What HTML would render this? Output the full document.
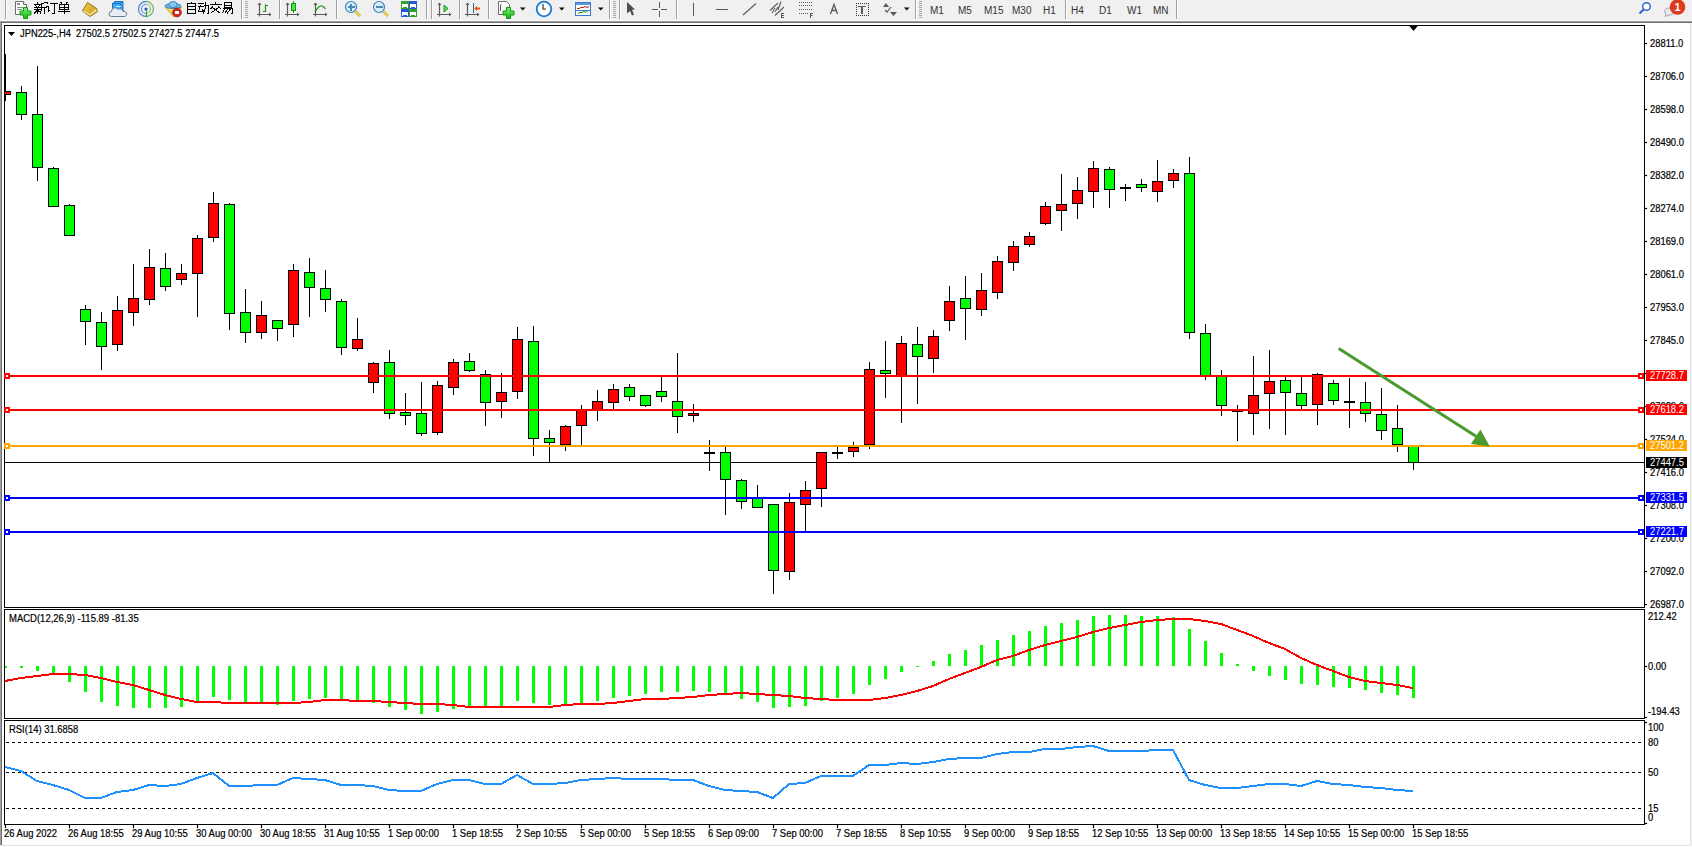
<!DOCTYPE html>
<html><head><meta charset="utf-8"><style>
html,body{margin:0;padding:0;}
body{width:1692px;height:847px;overflow:hidden;position:relative;background:#f0f0f0;font-family:"Liberation Sans",sans-serif;}
</style></head><body>
<svg width="1692" height="847" viewBox="0 0 1692 847" style="position:absolute;left:0;top:0" shape-rendering="crispEdges">
<rect x="0" y="20" width="1692" height="1" fill="#f6f6f6"/>
<rect x="0" y="21" width="1692" height="1" fill="#a0a0a0"/>
<rect x="0" y="22" width="1692" height="1" fill="#6f6f6f"/>
<rect x="0" y="23" width="1690" height="822" fill="#ffffff"/>
<rect x="0" y="21" width="1" height="825" fill="#a0a0a0"/>
<rect x="1" y="22" width="1" height="823" fill="#6f6f6f"/>
<rect x="1690" y="23" width="1" height="823" fill="#e3e3e3"/>
<rect x="0" y="845" width="1691" height="1" fill="#e3e3e3"/>
<rect x="0" y="846" width="1692" height="1" fill="#ffffff"/>
<rect x="4" y="25" width="1641" height="1" fill="#000"/>
<rect x="4" y="607" width="1641" height="1" fill="#000"/>
<rect x="4" y="25" width="1" height="583" fill="#000"/>
<rect x="1644" y="25" width="1" height="583" fill="#000"/>
<rect x="4" y="609" width="1641" height="1" fill="#000"/>
<rect x="4" y="718" width="1641" height="1" fill="#000"/>
<rect x="4" y="609" width="1" height="110" fill="#000"/>
<rect x="1644" y="609" width="1" height="110" fill="#000"/>
<rect x="4" y="720" width="1641" height="1" fill="#000"/>
<rect x="4" y="824" width="1641" height="1" fill="#000"/>
<rect x="4" y="720" width="1" height="105" fill="#000"/>
<rect x="1644" y="720" width="1" height="105" fill="#000"/>
<defs><clipPath id="cm"><rect x="5" y="26" width="1639" height="581"/></clipPath><clipPath id="cmacd"><rect x="5" y="610" width="1639" height="108"/></clipPath><clipPath id="crsi"><rect x="5" y="721" width="1639" height="103"/></clipPath></defs>
<g clip-path="url(#cm)">
<rect x="5" y="462" width="1639" height="1" fill="#000"/>
<rect x="5" y="54" width="1" height="47" fill="#000"/>
<rect x="0" y="91" width="11" height="4" fill="#000"/>
<rect x="1" y="92" width="9" height="2" fill="#ff0000"/>
<rect x="21" y="86" width="1" height="34" fill="#000"/>
<rect x="16" y="92" width="11" height="23" fill="#000"/>
<rect x="17" y="93" width="9" height="21" fill="#00ff00"/>
<rect x="37" y="66" width="1" height="115" fill="#000"/>
<rect x="32" y="114" width="11" height="54" fill="#000"/>
<rect x="33" y="115" width="9" height="52" fill="#00ff00"/>
<rect x="53" y="167" width="1" height="40" fill="#000"/>
<rect x="48" y="168" width="11" height="39" fill="#000"/>
<rect x="49" y="169" width="9" height="37" fill="#00ff00"/>
<rect x="69" y="204" width="1" height="32" fill="#000"/>
<rect x="64" y="205" width="11" height="31" fill="#000"/>
<rect x="65" y="206" width="9" height="29" fill="#00ff00"/>
<rect x="85" y="305" width="1" height="40" fill="#000"/>
<rect x="80" y="309" width="11" height="13" fill="#000"/>
<rect x="81" y="310" width="9" height="11" fill="#00ff00"/>
<rect x="101" y="312" width="1" height="58" fill="#000"/>
<rect x="96" y="322" width="11" height="25" fill="#000"/>
<rect x="97" y="323" width="9" height="23" fill="#00ff00"/>
<rect x="117" y="296" width="1" height="55" fill="#000"/>
<rect x="112" y="310" width="11" height="35" fill="#000"/>
<rect x="113" y="311" width="9" height="33" fill="#ff0000"/>
<rect x="133" y="264" width="1" height="62" fill="#000"/>
<rect x="128" y="298" width="11" height="15" fill="#000"/>
<rect x="129" y="299" width="9" height="13" fill="#ff0000"/>
<rect x="149" y="249" width="1" height="56" fill="#000"/>
<rect x="144" y="267" width="11" height="33" fill="#000"/>
<rect x="145" y="268" width="9" height="31" fill="#ff0000"/>
<rect x="165" y="253" width="1" height="38" fill="#000"/>
<rect x="160" y="268" width="11" height="19" fill="#000"/>
<rect x="161" y="269" width="9" height="17" fill="#00ff00"/>
<rect x="181" y="264" width="1" height="21" fill="#000"/>
<rect x="176" y="273" width="11" height="7" fill="#000"/>
<rect x="177" y="274" width="9" height="5" fill="#ff0000"/>
<rect x="197" y="235" width="1" height="82" fill="#000"/>
<rect x="192" y="238" width="11" height="36" fill="#000"/>
<rect x="193" y="239" width="9" height="34" fill="#ff0000"/>
<rect x="213" y="192" width="1" height="50" fill="#000"/>
<rect x="208" y="203" width="11" height="35" fill="#000"/>
<rect x="209" y="204" width="9" height="33" fill="#ff0000"/>
<rect x="229" y="203" width="1" height="127" fill="#000"/>
<rect x="224" y="204" width="11" height="110" fill="#000"/>
<rect x="225" y="205" width="9" height="108" fill="#00ff00"/>
<rect x="245" y="289" width="1" height="54" fill="#000"/>
<rect x="240" y="312" width="11" height="21" fill="#000"/>
<rect x="241" y="313" width="9" height="19" fill="#00ff00"/>
<rect x="261" y="301" width="1" height="38" fill="#000"/>
<rect x="256" y="315" width="11" height="18" fill="#000"/>
<rect x="257" y="316" width="9" height="16" fill="#ff0000"/>
<rect x="277" y="320" width="1" height="21" fill="#000"/>
<rect x="272" y="320" width="11" height="9" fill="#000"/>
<rect x="273" y="321" width="9" height="7" fill="#00ff00"/>
<rect x="293" y="264" width="1" height="73" fill="#000"/>
<rect x="288" y="270" width="11" height="55" fill="#000"/>
<rect x="289" y="271" width="9" height="53" fill="#ff0000"/>
<rect x="309" y="258" width="1" height="59" fill="#000"/>
<rect x="304" y="272" width="11" height="16" fill="#000"/>
<rect x="305" y="273" width="9" height="14" fill="#00ff00"/>
<rect x="325" y="270" width="1" height="42" fill="#000"/>
<rect x="320" y="288" width="11" height="12" fill="#000"/>
<rect x="321" y="289" width="9" height="10" fill="#00ff00"/>
<rect x="341" y="299" width="1" height="56" fill="#000"/>
<rect x="336" y="301" width="11" height="47" fill="#000"/>
<rect x="337" y="302" width="9" height="45" fill="#00ff00"/>
<rect x="357" y="318" width="1" height="33" fill="#000"/>
<rect x="352" y="339" width="11" height="10" fill="#000"/>
<rect x="353" y="340" width="9" height="8" fill="#ff0000"/>
<rect x="373" y="362" width="1" height="31" fill="#000"/>
<rect x="368" y="363" width="11" height="20" fill="#000"/>
<rect x="369" y="364" width="9" height="18" fill="#ff0000"/>
<rect x="389" y="350" width="1" height="69" fill="#000"/>
<rect x="384" y="362" width="11" height="52" fill="#000"/>
<rect x="385" y="363" width="9" height="50" fill="#00ff00"/>
<rect x="405" y="393" width="1" height="32" fill="#000"/>
<rect x="400" y="412" width="11" height="4" fill="#000"/>
<rect x="401" y="413" width="9" height="2" fill="#00ff00"/>
<rect x="421" y="382" width="1" height="54" fill="#000"/>
<rect x="416" y="413" width="11" height="21" fill="#000"/>
<rect x="417" y="414" width="9" height="19" fill="#00ff00"/>
<rect x="437" y="381" width="1" height="54" fill="#000"/>
<rect x="432" y="385" width="11" height="48" fill="#000"/>
<rect x="433" y="386" width="9" height="46" fill="#ff0000"/>
<rect x="453" y="359" width="1" height="36" fill="#000"/>
<rect x="448" y="362" width="11" height="26" fill="#000"/>
<rect x="449" y="363" width="9" height="24" fill="#ff0000"/>
<rect x="469" y="353" width="1" height="19" fill="#000"/>
<rect x="464" y="361" width="11" height="10" fill="#000"/>
<rect x="465" y="362" width="9" height="8" fill="#00ff00"/>
<rect x="485" y="370" width="1" height="56" fill="#000"/>
<rect x="480" y="374" width="11" height="29" fill="#000"/>
<rect x="481" y="375" width="9" height="27" fill="#00ff00"/>
<rect x="501" y="373" width="1" height="45" fill="#000"/>
<rect x="496" y="392" width="11" height="10" fill="#000"/>
<rect x="497" y="393" width="9" height="8" fill="#ff0000"/>
<rect x="517" y="327" width="1" height="72" fill="#000"/>
<rect x="512" y="339" width="11" height="53" fill="#000"/>
<rect x="513" y="340" width="9" height="51" fill="#ff0000"/>
<rect x="533" y="326" width="1" height="130" fill="#000"/>
<rect x="528" y="341" width="11" height="98" fill="#000"/>
<rect x="529" y="342" width="9" height="96" fill="#00ff00"/>
<rect x="549" y="430" width="1" height="33" fill="#000"/>
<rect x="544" y="438" width="11" height="5" fill="#000"/>
<rect x="545" y="439" width="9" height="3" fill="#00ff00"/>
<rect x="565" y="425" width="1" height="26" fill="#000"/>
<rect x="560" y="426" width="11" height="19" fill="#000"/>
<rect x="561" y="427" width="9" height="17" fill="#ff0000"/>
<rect x="581" y="405" width="1" height="41" fill="#000"/>
<rect x="576" y="410" width="11" height="16" fill="#000"/>
<rect x="577" y="411" width="9" height="14" fill="#ff0000"/>
<rect x="597" y="390" width="1" height="31" fill="#000"/>
<rect x="592" y="401" width="11" height="9" fill="#000"/>
<rect x="593" y="402" width="9" height="7" fill="#ff0000"/>
<rect x="613" y="384" width="1" height="26" fill="#000"/>
<rect x="608" y="389" width="11" height="14" fill="#000"/>
<rect x="609" y="390" width="9" height="12" fill="#ff0000"/>
<rect x="629" y="384" width="1" height="17" fill="#000"/>
<rect x="624" y="387" width="11" height="10" fill="#000"/>
<rect x="625" y="388" width="9" height="8" fill="#00ff00"/>
<rect x="645" y="395" width="1" height="12" fill="#000"/>
<rect x="640" y="395" width="11" height="11" fill="#000"/>
<rect x="641" y="396" width="9" height="9" fill="#00ff00"/>
<rect x="661" y="377" width="1" height="25" fill="#000"/>
<rect x="656" y="391" width="11" height="6" fill="#000"/>
<rect x="657" y="392" width="9" height="4" fill="#00ff00"/>
<rect x="677" y="353" width="1" height="80" fill="#000"/>
<rect x="672" y="401" width="11" height="16" fill="#000"/>
<rect x="673" y="402" width="9" height="14" fill="#00ff00"/>
<rect x="693" y="404" width="1" height="18" fill="#000"/>
<rect x="688" y="413" width="11" height="3" fill="#000"/>
<rect x="689" y="414" width="9" height="1" fill="#ff0000"/>
<rect x="709" y="440" width="1" height="31" fill="#000"/>
<rect x="704" y="452" width="11" height="2" fill="#000"/>
<rect x="725" y="447" width="1" height="68" fill="#000"/>
<rect x="720" y="452" width="11" height="28" fill="#000"/>
<rect x="721" y="453" width="9" height="26" fill="#00ff00"/>
<rect x="741" y="479" width="1" height="30" fill="#000"/>
<rect x="736" y="480" width="11" height="22" fill="#000"/>
<rect x="737" y="481" width="9" height="20" fill="#00ff00"/>
<rect x="757" y="485" width="1" height="23" fill="#000"/>
<rect x="752" y="498" width="11" height="10" fill="#000"/>
<rect x="753" y="499" width="9" height="8" fill="#00ff00"/>
<rect x="773" y="504" width="1" height="90" fill="#000"/>
<rect x="768" y="504" width="11" height="67" fill="#000"/>
<rect x="769" y="505" width="9" height="65" fill="#00ff00"/>
<rect x="789" y="493" width="1" height="87" fill="#000"/>
<rect x="784" y="502" width="11" height="70" fill="#000"/>
<rect x="785" y="503" width="9" height="68" fill="#ff0000"/>
<rect x="805" y="481" width="1" height="50" fill="#000"/>
<rect x="800" y="490" width="11" height="15" fill="#000"/>
<rect x="801" y="491" width="9" height="13" fill="#ff0000"/>
<rect x="821" y="452" width="1" height="55" fill="#000"/>
<rect x="816" y="452" width="11" height="37" fill="#000"/>
<rect x="817" y="453" width="9" height="35" fill="#ff0000"/>
<rect x="837" y="447" width="1" height="12" fill="#000"/>
<rect x="832" y="452" width="11" height="2" fill="#000"/>
<rect x="853" y="442" width="1" height="15" fill="#000"/>
<rect x="848" y="447" width="11" height="5" fill="#000"/>
<rect x="849" y="448" width="9" height="3" fill="#ff0000"/>
<rect x="869" y="362" width="1" height="87" fill="#000"/>
<rect x="864" y="369" width="11" height="76" fill="#000"/>
<rect x="865" y="370" width="9" height="74" fill="#ff0000"/>
<rect x="885" y="341" width="1" height="57" fill="#000"/>
<rect x="880" y="370" width="11" height="4" fill="#000"/>
<rect x="881" y="371" width="9" height="2" fill="#00ff00"/>
<rect x="901" y="336" width="1" height="87" fill="#000"/>
<rect x="896" y="343" width="11" height="33" fill="#000"/>
<rect x="897" y="344" width="9" height="31" fill="#ff0000"/>
<rect x="917" y="327" width="1" height="77" fill="#000"/>
<rect x="912" y="344" width="11" height="13" fill="#000"/>
<rect x="913" y="345" width="9" height="11" fill="#00ff00"/>
<rect x="933" y="330" width="1" height="43" fill="#000"/>
<rect x="928" y="336" width="11" height="23" fill="#000"/>
<rect x="929" y="337" width="9" height="21" fill="#ff0000"/>
<rect x="949" y="286" width="1" height="45" fill="#000"/>
<rect x="944" y="301" width="11" height="20" fill="#000"/>
<rect x="945" y="302" width="9" height="18" fill="#ff0000"/>
<rect x="965" y="276" width="1" height="64" fill="#000"/>
<rect x="960" y="298" width="11" height="11" fill="#000"/>
<rect x="961" y="299" width="9" height="9" fill="#00ff00"/>
<rect x="981" y="273" width="1" height="43" fill="#000"/>
<rect x="976" y="290" width="11" height="20" fill="#000"/>
<rect x="977" y="291" width="9" height="18" fill="#ff0000"/>
<rect x="997" y="256" width="1" height="43" fill="#000"/>
<rect x="992" y="261" width="11" height="32" fill="#000"/>
<rect x="993" y="262" width="9" height="30" fill="#ff0000"/>
<rect x="1013" y="241" width="1" height="30" fill="#000"/>
<rect x="1008" y="246" width="11" height="17" fill="#000"/>
<rect x="1009" y="247" width="9" height="15" fill="#ff0000"/>
<rect x="1029" y="232" width="1" height="15" fill="#000"/>
<rect x="1024" y="236" width="11" height="9" fill="#000"/>
<rect x="1025" y="237" width="9" height="7" fill="#ff0000"/>
<rect x="1045" y="202" width="1" height="23" fill="#000"/>
<rect x="1040" y="206" width="11" height="18" fill="#000"/>
<rect x="1041" y="207" width="9" height="16" fill="#ff0000"/>
<rect x="1061" y="174" width="1" height="57" fill="#000"/>
<rect x="1056" y="204" width="11" height="7" fill="#000"/>
<rect x="1057" y="205" width="9" height="5" fill="#ff0000"/>
<rect x="1077" y="177" width="1" height="42" fill="#000"/>
<rect x="1072" y="190" width="11" height="14" fill="#000"/>
<rect x="1073" y="191" width="9" height="12" fill="#ff0000"/>
<rect x="1093" y="161" width="1" height="47" fill="#000"/>
<rect x="1088" y="168" width="11" height="24" fill="#000"/>
<rect x="1089" y="169" width="9" height="22" fill="#ff0000"/>
<rect x="1109" y="167" width="1" height="41" fill="#000"/>
<rect x="1104" y="169" width="11" height="21" fill="#000"/>
<rect x="1105" y="170" width="9" height="19" fill="#00ff00"/>
<rect x="1125" y="184" width="1" height="17" fill="#000"/>
<rect x="1120" y="187" width="11" height="2" fill="#000"/>
<rect x="1141" y="179" width="1" height="13" fill="#000"/>
<rect x="1136" y="184" width="11" height="4" fill="#000"/>
<rect x="1137" y="185" width="9" height="2" fill="#00ff00"/>
<rect x="1157" y="160" width="1" height="42" fill="#000"/>
<rect x="1152" y="181" width="11" height="11" fill="#000"/>
<rect x="1153" y="182" width="9" height="9" fill="#ff0000"/>
<rect x="1173" y="169" width="1" height="19" fill="#000"/>
<rect x="1168" y="173" width="11" height="8" fill="#000"/>
<rect x="1169" y="174" width="9" height="6" fill="#ff0000"/>
<rect x="1189" y="157" width="1" height="182" fill="#000"/>
<rect x="1184" y="173" width="11" height="160" fill="#000"/>
<rect x="1185" y="174" width="9" height="158" fill="#00ff00"/>
<rect x="1205" y="324" width="1" height="56" fill="#000"/>
<rect x="1200" y="333" width="11" height="43" fill="#000"/>
<rect x="1201" y="334" width="9" height="41" fill="#00ff00"/>
<rect x="1221" y="370" width="1" height="46" fill="#000"/>
<rect x="1216" y="375" width="11" height="31" fill="#000"/>
<rect x="1217" y="376" width="9" height="29" fill="#00ff00"/>
<rect x="1237" y="405" width="1" height="36" fill="#000"/>
<rect x="1232" y="410" width="11" height="2" fill="#000"/>
<rect x="1253" y="356" width="1" height="79" fill="#000"/>
<rect x="1248" y="395" width="11" height="19" fill="#000"/>
<rect x="1249" y="396" width="9" height="17" fill="#ff0000"/>
<rect x="1269" y="350" width="1" height="79" fill="#000"/>
<rect x="1264" y="381" width="11" height="13" fill="#000"/>
<rect x="1265" y="382" width="9" height="11" fill="#ff0000"/>
<rect x="1285" y="376" width="1" height="59" fill="#000"/>
<rect x="1280" y="380" width="11" height="13" fill="#000"/>
<rect x="1281" y="381" width="9" height="11" fill="#00ff00"/>
<rect x="1301" y="376" width="1" height="33" fill="#000"/>
<rect x="1296" y="393" width="11" height="13" fill="#000"/>
<rect x="1297" y="394" width="9" height="11" fill="#00ff00"/>
<rect x="1317" y="373" width="1" height="52" fill="#000"/>
<rect x="1312" y="374" width="11" height="31" fill="#000"/>
<rect x="1313" y="375" width="9" height="29" fill="#ff0000"/>
<rect x="1333" y="380" width="1" height="25" fill="#000"/>
<rect x="1328" y="383" width="11" height="18" fill="#000"/>
<rect x="1329" y="384" width="9" height="16" fill="#00ff00"/>
<rect x="1349" y="378" width="1" height="50" fill="#000"/>
<rect x="1344" y="401" width="11" height="2" fill="#000"/>
<rect x="1365" y="382" width="1" height="40" fill="#000"/>
<rect x="1360" y="402" width="11" height="12" fill="#000"/>
<rect x="1361" y="403" width="9" height="10" fill="#00ff00"/>
<rect x="1381" y="388" width="1" height="52" fill="#000"/>
<rect x="1376" y="414" width="11" height="17" fill="#000"/>
<rect x="1377" y="415" width="9" height="15" fill="#00ff00"/>
<rect x="1397" y="405" width="1" height="47" fill="#000"/>
<rect x="1392" y="428" width="11" height="17" fill="#000"/>
<rect x="1393" y="429" width="9" height="15" fill="#00ff00"/>
<rect x="1413" y="445" width="1" height="25" fill="#000"/>
<rect x="1408" y="446" width="11" height="17" fill="#000"/>
<rect x="1409" y="447" width="9" height="15" fill="#00ff00"/>
<rect x="5" y="375" width="1639" height="2" fill="#ff0000"/>
<rect x="5" y="409" width="1639" height="2" fill="#ff0000"/>
<rect x="5" y="445" width="1639" height="2" fill="#ffa500"/>
<rect x="5" y="497" width="1639" height="2" fill="#0000ff"/>
<rect x="5" y="531" width="1639" height="2" fill="#0000ff"/>
</g>
<rect x="4" y="373" width="6" height="6" fill="#ff0000"/>
<rect x="6" y="375" width="2" height="2" fill="#ffffff"/>
<rect x="1638" y="373" width="6" height="6" fill="#ff0000"/>
<rect x="1640" y="375" width="2" height="2" fill="#ffffff"/>
<rect x="4" y="407" width="6" height="6" fill="#ff0000"/>
<rect x="6" y="409" width="2" height="2" fill="#ffffff"/>
<rect x="1638" y="407" width="6" height="6" fill="#ff0000"/>
<rect x="1640" y="409" width="2" height="2" fill="#ffffff"/>
<rect x="4" y="443" width="6" height="6" fill="#ffa500"/>
<rect x="6" y="445" width="2" height="2" fill="#ffffff"/>
<rect x="1638" y="443" width="6" height="6" fill="#ffa500"/>
<rect x="1640" y="445" width="2" height="2" fill="#ffffff"/>
<rect x="4" y="495" width="6" height="6" fill="#0000ff"/>
<rect x="6" y="497" width="2" height="2" fill="#ffffff"/>
<rect x="1638" y="495" width="6" height="6" fill="#0000ff"/>
<rect x="1640" y="497" width="2" height="2" fill="#ffffff"/>
<rect x="4" y="529" width="6" height="6" fill="#0000ff"/>
<rect x="6" y="531" width="2" height="2" fill="#ffffff"/>
<rect x="1638" y="529" width="6" height="6" fill="#0000ff"/>
<rect x="1640" y="531" width="2" height="2" fill="#ffffff"/>
<polygon points="1408.5,25 1418.5,25 1413.5,31" fill="#000" shape-rendering="auto"/>
<g shape-rendering="auto"><line x1="1338.7" y1="348.5" x2="1476" y2="436.2" stroke="#4a9a2e" stroke-width="3"/><polygon points="1480.4,429.4 1470.9,444 1489.8,446.4" fill="#4a9a2e"/></g>
<g clip-path="url(#cmacd)">
<rect x="4" y="666" width="3" height="2" fill="#00ff00"/>
<rect x="20" y="666" width="3" height="2" fill="#00ff00"/>
<rect x="36" y="666" width="3" height="5" fill="#00ff00"/>
<rect x="52" y="666" width="3" height="9" fill="#00ff00"/>
<rect x="68" y="666" width="3" height="16" fill="#00ff00"/>
<rect x="84" y="666" width="3" height="26" fill="#00ff00"/>
<rect x="100" y="666" width="3" height="36" fill="#00ff00"/>
<rect x="116" y="666" width="3" height="40" fill="#00ff00"/>
<rect x="132" y="666" width="3" height="42" fill="#00ff00"/>
<rect x="148" y="666" width="3" height="42" fill="#00ff00"/>
<rect x="164" y="666" width="3" height="42" fill="#00ff00"/>
<rect x="180" y="666" width="3" height="41" fill="#00ff00"/>
<rect x="196" y="666" width="3" height="36" fill="#00ff00"/>
<rect x="212" y="666" width="3" height="31" fill="#00ff00"/>
<rect x="228" y="666" width="3" height="34" fill="#00ff00"/>
<rect x="244" y="666" width="3" height="37" fill="#00ff00"/>
<rect x="260" y="666" width="3" height="37" fill="#00ff00"/>
<rect x="276" y="666" width="3" height="39" fill="#00ff00"/>
<rect x="292" y="666" width="3" height="35" fill="#00ff00"/>
<rect x="308" y="666" width="3" height="33" fill="#00ff00"/>
<rect x="324" y="666" width="3" height="32" fill="#00ff00"/>
<rect x="340" y="666" width="3" height="33" fill="#00ff00"/>
<rect x="356" y="666" width="3" height="34" fill="#00ff00"/>
<rect x="372" y="666" width="3" height="37" fill="#00ff00"/>
<rect x="388" y="666" width="3" height="41" fill="#00ff00"/>
<rect x="404" y="666" width="3" height="44" fill="#00ff00"/>
<rect x="420" y="666" width="3" height="48" fill="#00ff00"/>
<rect x="436" y="666" width="3" height="46" fill="#00ff00"/>
<rect x="452" y="666" width="3" height="43" fill="#00ff00"/>
<rect x="468" y="666" width="3" height="40" fill="#00ff00"/>
<rect x="484" y="666" width="3" height="40" fill="#00ff00"/>
<rect x="500" y="666" width="3" height="40" fill="#00ff00"/>
<rect x="516" y="666" width="3" height="35" fill="#00ff00"/>
<rect x="532" y="666" width="3" height="37" fill="#00ff00"/>
<rect x="548" y="666" width="3" height="39" fill="#00ff00"/>
<rect x="564" y="666" width="3" height="39" fill="#00ff00"/>
<rect x="580" y="666" width="3" height="37" fill="#00ff00"/>
<rect x="596" y="666" width="3" height="35" fill="#00ff00"/>
<rect x="612" y="666" width="3" height="32" fill="#00ff00"/>
<rect x="628" y="666" width="3" height="30" fill="#00ff00"/>
<rect x="644" y="666" width="3" height="28" fill="#00ff00"/>
<rect x="660" y="666" width="3" height="26" fill="#00ff00"/>
<rect x="676" y="666" width="3" height="26" fill="#00ff00"/>
<rect x="692" y="666" width="3" height="25" fill="#00ff00"/>
<rect x="708" y="666" width="3" height="26" fill="#00ff00"/>
<rect x="724" y="666" width="3" height="28" fill="#00ff00"/>
<rect x="740" y="666" width="3" height="33" fill="#00ff00"/>
<rect x="756" y="666" width="3" height="36" fill="#00ff00"/>
<rect x="772" y="666" width="3" height="42" fill="#00ff00"/>
<rect x="788" y="666" width="3" height="41" fill="#00ff00"/>
<rect x="804" y="666" width="3" height="40" fill="#00ff00"/>
<rect x="820" y="666" width="3" height="35" fill="#00ff00"/>
<rect x="836" y="666" width="3" height="32" fill="#00ff00"/>
<rect x="852" y="666" width="3" height="28" fill="#00ff00"/>
<rect x="868" y="666" width="3" height="19" fill="#00ff00"/>
<rect x="884" y="666" width="3" height="13" fill="#00ff00"/>
<rect x="900" y="666" width="3" height="6" fill="#00ff00"/>
<rect x="916" y="666" width="3" height="1" fill="#00ff00"/>
<rect x="932" y="661" width="3" height="5" fill="#00ff00"/>
<rect x="948" y="654" width="3" height="12" fill="#00ff00"/>
<rect x="964" y="650" width="3" height="16" fill="#00ff00"/>
<rect x="980" y="645" width="3" height="21" fill="#00ff00"/>
<rect x="996" y="640" width="3" height="26" fill="#00ff00"/>
<rect x="1012" y="635" width="3" height="31" fill="#00ff00"/>
<rect x="1028" y="631" width="3" height="35" fill="#00ff00"/>
<rect x="1044" y="626" width="3" height="40" fill="#00ff00"/>
<rect x="1060" y="623" width="3" height="43" fill="#00ff00"/>
<rect x="1076" y="620" width="3" height="46" fill="#00ff00"/>
<rect x="1092" y="616" width="3" height="50" fill="#00ff00"/>
<rect x="1108" y="615" width="3" height="51" fill="#00ff00"/>
<rect x="1124" y="615" width="3" height="51" fill="#00ff00"/>
<rect x="1140" y="616" width="3" height="50" fill="#00ff00"/>
<rect x="1156" y="616" width="3" height="50" fill="#00ff00"/>
<rect x="1172" y="617" width="3" height="49" fill="#00ff00"/>
<rect x="1188" y="629" width="3" height="37" fill="#00ff00"/>
<rect x="1204" y="641" width="3" height="25" fill="#00ff00"/>
<rect x="1220" y="653" width="3" height="13" fill="#00ff00"/>
<rect x="1236" y="664" width="3" height="2" fill="#00ff00"/>
<rect x="1252" y="666" width="3" height="5" fill="#00ff00"/>
<rect x="1268" y="666" width="3" height="10" fill="#00ff00"/>
<rect x="1284" y="666" width="3" height="14" fill="#00ff00"/>
<rect x="1300" y="666" width="3" height="18" fill="#00ff00"/>
<rect x="1316" y="666" width="3" height="19" fill="#00ff00"/>
<rect x="1332" y="666" width="3" height="21" fill="#00ff00"/>
<rect x="1348" y="666" width="3" height="22" fill="#00ff00"/>
<rect x="1364" y="666" width="3" height="24" fill="#00ff00"/>
<rect x="1380" y="666" width="3" height="27" fill="#00ff00"/>
<rect x="1396" y="666" width="3" height="29" fill="#00ff00"/>
<rect x="1412" y="666" width="3" height="32" fill="#00ff00"/>
<polyline points="0,682 5,681 21,678 37,676 53,674 69,674 85,675 101,678 117,682 133,685 149,690 165,695 181,699 197,702 213,702 229,703 245,703 261,703 277,703 293,703 309,702 325,700 341,700 357,701 373,701 389,702 405,703 421,704 437,704 453,705 469,707 485,707 501,707 517,707 533,707 549,707 565,705 581,704 597,704 613,703 629,701 645,699 661,699 677,698 693,697 709,695 725,694 741,693 757,694 773,695 789,696 805,698 821,699 837,700 853,700 869,700 885,698 901,695 917,691 933,686 949,679 965,673 981,667 997,660 1013,656 1029,650 1045,645 1061,641 1077,637 1093,632 1109,628 1125,625 1141,622 1157,620 1173,619 1189,619 1205,621 1221,624 1237,630 1253,636 1269,643 1285,649 1301,658 1317,665 1333,671 1349,677 1365,681 1381,683 1397,685 1413,688" fill="none" stroke="#ff0000" stroke-width="2"/>
</g>
<g clip-path="url(#crsi)">
<line x1="6" y1="742.5" x2="1644" y2="742.5" stroke="#000" stroke-width="1" stroke-dasharray="3,3"/>
<line x1="6" y1="772.5" x2="1644" y2="772.5" stroke="#000" stroke-width="1" stroke-dasharray="3,3"/>
<line x1="6" y1="808.5" x2="1644" y2="808.5" stroke="#000" stroke-width="1" stroke-dasharray="3,3"/>
<polyline points="5,767 21,771 37,781 53,785 69,790 85,798 101,798 117,792 133,790 149,785 165,786 181,784 197,778 213,773 229,786 245,786 261,785 277,785 293,778 309,779 325,780 341,785 357,785 373,786 389,790 405,791 421,791 437,784 453,780 469,780 485,784 501,784 517,775 533,784 549,784 565,783 581,780 597,779 613,778 629,779 645,779 661,779 677,780 693,780 709,786 725,790 741,791 757,792 773,798 789,784 805,783 821,776 837,776 853,776 869,765 885,765 901,763 917,764 933,762 949,759 965,758 981,758 997,754 1013,752 1029,752 1045,749 1061,749 1077,747 1093,746 1109,751 1125,751 1141,751 1157,750 1173,750 1189,780 1205,785 1221,788 1237,788 1253,786 1269,784 1285,784 1301,786 1317,781 1333,784 1349,785 1365,787 1381,788 1397,790 1413,791" fill="none" stroke="#1e90ff" stroke-width="2"/>
</g>
<g font-family="Liberation Sans, sans-serif" fill="#000" stroke="#000" stroke-width="0.2" shape-rendering="auto">
<rect x="1645" y="373" width="2" height="1" fill="#000"/>
<rect x="1645" y="43" width="2" height="1" fill="#000"/>
<text transform="translate(1650,47) scale(0.9400,1)" font-size="10" xml:space="preserve" >28811.0</text>
<rect x="1645" y="76" width="2" height="1" fill="#000"/>
<text transform="translate(1650,80) scale(0.9400,1)" font-size="10" xml:space="preserve" >28706.0</text>
<rect x="1645" y="109" width="2" height="1" fill="#000"/>
<text transform="translate(1650,113) scale(0.9400,1)" font-size="10" xml:space="preserve" >28598.0</text>
<rect x="1645" y="142" width="2" height="1" fill="#000"/>
<text transform="translate(1650,146) scale(0.9400,1)" font-size="10" xml:space="preserve" >28490.0</text>
<rect x="1645" y="175" width="2" height="1" fill="#000"/>
<text transform="translate(1650,179) scale(0.9400,1)" font-size="10" xml:space="preserve" >28382.0</text>
<rect x="1645" y="208" width="2" height="1" fill="#000"/>
<text transform="translate(1650,212) scale(0.9400,1)" font-size="10" xml:space="preserve" >28274.0</text>
<rect x="1645" y="241" width="2" height="1" fill="#000"/>
<text transform="translate(1650,245) scale(0.9400,1)" font-size="10" xml:space="preserve" >28169.0</text>
<rect x="1645" y="274" width="2" height="1" fill="#000"/>
<text transform="translate(1650,278) scale(0.9400,1)" font-size="10" xml:space="preserve" >28061.0</text>
<rect x="1645" y="307" width="2" height="1" fill="#000"/>
<text transform="translate(1650,311) scale(0.9400,1)" font-size="10" xml:space="preserve" >27953.0</text>
<rect x="1645" y="340" width="2" height="1" fill="#000"/>
<text transform="translate(1650,344) scale(0.9400,1)" font-size="10" xml:space="preserve" >27845.0</text>
<rect x="1645" y="406" width="2" height="1" fill="#000"/>
<text transform="translate(1650,410) scale(0.9400,1)" font-size="10" xml:space="preserve" >27629.0</text>
<rect x="1645" y="439" width="2" height="1" fill="#000"/>
<text transform="translate(1650,443) scale(0.9400,1)" font-size="10" xml:space="preserve" >27524.0</text>
<rect x="1645" y="472" width="2" height="1" fill="#000"/>
<text transform="translate(1650,476) scale(0.9400,1)" font-size="10" xml:space="preserve" >27416.0</text>
<rect x="1645" y="505" width="2" height="1" fill="#000"/>
<text transform="translate(1650,509) scale(0.9400,1)" font-size="10" xml:space="preserve" >27308.0</text>
<rect x="1645" y="538" width="2" height="1" fill="#000"/>
<text transform="translate(1650,542) scale(0.9400,1)" font-size="10" xml:space="preserve" >27200.0</text>
<rect x="1645" y="571" width="2" height="1" fill="#000"/>
<text transform="translate(1650,575) scale(0.9400,1)" font-size="10" xml:space="preserve" >27092.0</text>
<rect x="1645" y="604" width="2" height="1" fill="#000"/>
<text transform="translate(1650,608) scale(0.9400,1)" font-size="10" xml:space="preserve" >26987.0</text>
</g>
<g font-family="Liberation Sans, sans-serif" fill="#fff">
<rect x="1646" y="370" width="41" height="11" fill="#ff0000"/>
<text transform="translate(1650,379) scale(0.9400,1)" font-size="10" xml:space="preserve" >27728.7</text>
<rect x="1646" y="404" width="41" height="11" fill="#ff0000"/>
<text transform="translate(1650,413) scale(0.9400,1)" font-size="10" xml:space="preserve" >27618.2</text>
<rect x="1646" y="440" width="41" height="11" fill="#ffa500"/>
<text transform="translate(1650,449) scale(0.9400,1)" font-size="10" xml:space="preserve" >27501.2</text>
<rect x="1646" y="457" width="41" height="11" fill="#000000"/>
<text transform="translate(1650,466) scale(0.9400,1)" font-size="10" xml:space="preserve" >27447.5</text>
<rect x="1646" y="492" width="41" height="11" fill="#0000ff"/>
<text transform="translate(1650,501) scale(0.9400,1)" font-size="10" xml:space="preserve" >27331.5</text>
<rect x="1646" y="526" width="41" height="11" fill="#0000ff"/>
<text transform="translate(1650,535) scale(0.9400,1)" font-size="10" xml:space="preserve" >27221.7</text>
</g>
<g font-family="Liberation Sans, sans-serif" fill="#000" stroke="#000" stroke-width="0.2" shape-rendering="auto">
<text transform="translate(1648,620) scale(0.9400,1)" font-size="10" xml:space="preserve" >212.42</text>
<text transform="translate(1648,670) scale(0.9400,1)" font-size="10" xml:space="preserve" >0.00</text>
<text transform="translate(1648,715) scale(0.9400,1)" font-size="10" xml:space="preserve" >-194.43</text>
<rect x="1645" y="666" width="2" height="1" fill="#000"/>
<rect x="1645" y="717" width="2" height="1" fill="#000"/>
<rect x="1645" y="722" width="2" height="1" fill="#000"/>
<rect x="1645" y="823" width="2" height="1" fill="#000"/>
<text transform="translate(1648,731) scale(0.9400,1)" font-size="10" xml:space="preserve" >100</text>
<text transform="translate(1648,746) scale(0.9400,1)" font-size="10" xml:space="preserve" >80</text>
<text transform="translate(1648,776) scale(0.9400,1)" font-size="10" xml:space="preserve" >50</text>
<text transform="translate(1648,812) scale(0.9400,1)" font-size="10" xml:space="preserve" >15</text>
<text transform="translate(1648,821) scale(0.9400,1)" font-size="10" xml:space="preserve" >0</text>
<rect x="5" y="825" width="1" height="3" fill="#000"/>
<text transform="translate(4,837) scale(0.9450,1)" font-size="10" xml:space="preserve" >26 Aug 2022</text>
<rect x="69" y="825" width="1" height="3" fill="#000"/>
<text transform="translate(68,837) scale(0.9450,1)" font-size="10" xml:space="preserve" >26 Aug 18:55</text>
<rect x="133" y="825" width="1" height="3" fill="#000"/>
<text transform="translate(132,837) scale(0.9450,1)" font-size="10" xml:space="preserve" >29 Aug 10:55</text>
<rect x="197" y="825" width="1" height="3" fill="#000"/>
<text transform="translate(196,837) scale(0.9450,1)" font-size="10" xml:space="preserve" >30 Aug 00:00</text>
<rect x="261" y="825" width="1" height="3" fill="#000"/>
<text transform="translate(260,837) scale(0.9450,1)" font-size="10" xml:space="preserve" >30 Aug 18:55</text>
<rect x="325" y="825" width="1" height="3" fill="#000"/>
<text transform="translate(324,837) scale(0.9450,1)" font-size="10" xml:space="preserve" >31 Aug 10:55</text>
<rect x="389" y="825" width="1" height="3" fill="#000"/>
<text transform="translate(388,837) scale(0.9450,1)" font-size="10" xml:space="preserve" >1 Sep 00:00</text>
<rect x="453" y="825" width="1" height="3" fill="#000"/>
<text transform="translate(452,837) scale(0.9450,1)" font-size="10" xml:space="preserve" >1 Sep 18:55</text>
<rect x="517" y="825" width="1" height="3" fill="#000"/>
<text transform="translate(516,837) scale(0.9450,1)" font-size="10" xml:space="preserve" >2 Sep 10:55</text>
<rect x="581" y="825" width="1" height="3" fill="#000"/>
<text transform="translate(580,837) scale(0.9450,1)" font-size="10" xml:space="preserve" >5 Sep 00:00</text>
<rect x="645" y="825" width="1" height="3" fill="#000"/>
<text transform="translate(644,837) scale(0.9450,1)" font-size="10" xml:space="preserve" >5 Sep 18:55</text>
<rect x="709" y="825" width="1" height="3" fill="#000"/>
<text transform="translate(708,837) scale(0.9450,1)" font-size="10" xml:space="preserve" >6 Sep 09:00</text>
<rect x="773" y="825" width="1" height="3" fill="#000"/>
<text transform="translate(772,837) scale(0.9450,1)" font-size="10" xml:space="preserve" >7 Sep 00:00</text>
<rect x="837" y="825" width="1" height="3" fill="#000"/>
<text transform="translate(836,837) scale(0.9450,1)" font-size="10" xml:space="preserve" >7 Sep 18:55</text>
<rect x="901" y="825" width="1" height="3" fill="#000"/>
<text transform="translate(900,837) scale(0.9450,1)" font-size="10" xml:space="preserve" >8 Sep 10:55</text>
<rect x="965" y="825" width="1" height="3" fill="#000"/>
<text transform="translate(964,837) scale(0.9450,1)" font-size="10" xml:space="preserve" >9 Sep 00:00</text>
<rect x="1029" y="825" width="1" height="3" fill="#000"/>
<text transform="translate(1028,837) scale(0.9450,1)" font-size="10" xml:space="preserve" >9 Sep 18:55</text>
<rect x="1093" y="825" width="1" height="3" fill="#000"/>
<text transform="translate(1092,837) scale(0.9450,1)" font-size="10" xml:space="preserve" >12 Sep 10:55</text>
<rect x="1157" y="825" width="1" height="3" fill="#000"/>
<text transform="translate(1156,837) scale(0.9450,1)" font-size="10" xml:space="preserve" >13 Sep 00:00</text>
<rect x="1221" y="825" width="1" height="3" fill="#000"/>
<text transform="translate(1220,837) scale(0.9450,1)" font-size="10" xml:space="preserve" >13 Sep 18:55</text>
<rect x="1285" y="825" width="1" height="3" fill="#000"/>
<text transform="translate(1284,837) scale(0.9450,1)" font-size="10" xml:space="preserve" >14 Sep 10:55</text>
<rect x="1349" y="825" width="1" height="3" fill="#000"/>
<text transform="translate(1348,837) scale(0.9450,1)" font-size="10" xml:space="preserve" >15 Sep 00:00</text>
<rect x="1413" y="825" width="1" height="3" fill="#000"/>
<text transform="translate(1412,837) scale(0.9450,1)" font-size="10" xml:space="preserve" >15 Sep 18:55</text>
<text transform="translate(20,37) scale(0.9350,1)" font-size="10" xml:space="preserve" >JPN225-,H4  27502.5 27502.5 27427.5 27447.5</text>
<text transform="translate(9,622) scale(0.9500,1)" font-size="10" xml:space="preserve" >MACD(12,26,9) -115.89 -81.35</text>
<text transform="translate(9,733) scale(0.9450,1)" font-size="10" xml:space="preserve" >RSI(14) 31.6858</text>
</g>
<polygon points="8,32 15,32 11.5,36" fill="#000" shape-rendering="auto"/>
</svg>
<svg width="1692" height="21" viewBox="0 0 1692 21" style="position:absolute;left:0;top:0">
<defs><pattern id="chk" width="2" height="2" patternUnits="userSpaceOnUse"><rect width="2" height="2" fill="#f7f7f7"/><rect width="1" height="1" fill="#e9e9e9"/><rect x="1" y="1" width="1" height="1" fill="#e9e9e9"/></pattern><linearGradient id="gplus" x1="0" y1="0" x2="0" y2="1"><stop offset="0" stop-color="#7df07d"/><stop offset="1" stop-color="#0fb80f"/></linearGradient><linearGradient id="gold" x1="0" y1="0" x2="1" y2="1"><stop offset="0" stop-color="#f3d34a"/><stop offset="1" stop-color="#c8901a"/></linearGradient></defs>
<rect x="280" y="0" width="24" height="19" fill="url(#chk)" shape-rendering="crispEdges"/>
<rect x="432" y="0" width="25" height="19" fill="url(#chk)" shape-rendering="crispEdges"/>
<rect x="460" y="0" width="25" height="19" fill="url(#chk)" shape-rendering="crispEdges"/>
<rect x="620" y="0" width="25" height="19" fill="url(#chk)" shape-rendering="crispEdges"/>
<rect x="1066" y="0" width="24" height="19" fill="url(#chk)" shape-rendering="crispEdges"/>
<rect x="5" y="0" width="1" height="19" fill="#a0a0a0" shape-rendering="crispEdges"/>
<rect x="6" y="0" width="1" height="19" fill="#ffffff" shape-rendering="crispEdges"/>
<rect x="241" y="0" width="1" height="19" fill="#a0a0a0" shape-rendering="crispEdges"/>
<rect x="242" y="0" width="1" height="19" fill="#ffffff" shape-rendering="crispEdges"/>
<rect x="279" y="0" width="1" height="19" fill="#a0a0a0" shape-rendering="crispEdges"/>
<rect x="280" y="0" width="1" height="19" fill="#ffffff" shape-rendering="crispEdges"/>
<rect x="336" y="0" width="1" height="19" fill="#a0a0a0" shape-rendering="crispEdges"/>
<rect x="337" y="0" width="1" height="19" fill="#ffffff" shape-rendering="crispEdges"/>
<rect x="426" y="0" width="1" height="19" fill="#a0a0a0" shape-rendering="crispEdges"/>
<rect x="427" y="0" width="1" height="19" fill="#ffffff" shape-rendering="crispEdges"/>
<rect x="431" y="0" width="1" height="19" fill="#a0a0a0" shape-rendering="crispEdges"/>
<rect x="432" y="0" width="1" height="19" fill="#ffffff" shape-rendering="crispEdges"/>
<rect x="459" y="0" width="1" height="19" fill="#a0a0a0" shape-rendering="crispEdges"/>
<rect x="460" y="0" width="1" height="19" fill="#ffffff" shape-rendering="crispEdges"/>
<rect x="488" y="0" width="1" height="19" fill="#a0a0a0" shape-rendering="crispEdges"/>
<rect x="489" y="0" width="1" height="19" fill="#ffffff" shape-rendering="crispEdges"/>
<rect x="609" y="0" width="1" height="19" fill="#a0a0a0" shape-rendering="crispEdges"/>
<rect x="610" y="0" width="1" height="19" fill="#ffffff" shape-rendering="crispEdges"/>
<rect x="619" y="0" width="1" height="19" fill="#a0a0a0" shape-rendering="crispEdges"/>
<rect x="620" y="0" width="1" height="19" fill="#ffffff" shape-rendering="crispEdges"/>
<rect x="676" y="0" width="1" height="19" fill="#a0a0a0" shape-rendering="crispEdges"/>
<rect x="677" y="0" width="1" height="19" fill="#ffffff" shape-rendering="crispEdges"/>
<rect x="915" y="0" width="1" height="19" fill="#a0a0a0" shape-rendering="crispEdges"/>
<rect x="916" y="0" width="1" height="19" fill="#ffffff" shape-rendering="crispEdges"/>
<rect x="1065" y="0" width="1" height="19" fill="#a0a0a0" shape-rendering="crispEdges"/>
<rect x="1066" y="0" width="1" height="19" fill="#ffffff" shape-rendering="crispEdges"/>
<rect x="1176" y="0" width="1" height="19" fill="#a0a0a0" shape-rendering="crispEdges"/>
<rect x="1177" y="0" width="1" height="19" fill="#ffffff" shape-rendering="crispEdges"/>
<rect x="245" y="1" width="3" height="1" fill="#a8a8a8" shape-rendering="crispEdges"/>
<rect x="245" y="3" width="3" height="1" fill="#a8a8a8" shape-rendering="crispEdges"/>
<rect x="245" y="5" width="3" height="1" fill="#a8a8a8" shape-rendering="crispEdges"/>
<rect x="245" y="7" width="3" height="1" fill="#a8a8a8" shape-rendering="crispEdges"/>
<rect x="245" y="9" width="3" height="1" fill="#a8a8a8" shape-rendering="crispEdges"/>
<rect x="245" y="11" width="3" height="1" fill="#a8a8a8" shape-rendering="crispEdges"/>
<rect x="245" y="13" width="3" height="1" fill="#a8a8a8" shape-rendering="crispEdges"/>
<rect x="245" y="15" width="3" height="1" fill="#a8a8a8" shape-rendering="crispEdges"/>
<rect x="245" y="17" width="3" height="1" fill="#a8a8a8" shape-rendering="crispEdges"/>
<rect x="613" y="1" width="3" height="1" fill="#a8a8a8" shape-rendering="crispEdges"/>
<rect x="613" y="3" width="3" height="1" fill="#a8a8a8" shape-rendering="crispEdges"/>
<rect x="613" y="5" width="3" height="1" fill="#a8a8a8" shape-rendering="crispEdges"/>
<rect x="613" y="7" width="3" height="1" fill="#a8a8a8" shape-rendering="crispEdges"/>
<rect x="613" y="9" width="3" height="1" fill="#a8a8a8" shape-rendering="crispEdges"/>
<rect x="613" y="11" width="3" height="1" fill="#a8a8a8" shape-rendering="crispEdges"/>
<rect x="613" y="13" width="3" height="1" fill="#a8a8a8" shape-rendering="crispEdges"/>
<rect x="613" y="15" width="3" height="1" fill="#a8a8a8" shape-rendering="crispEdges"/>
<rect x="613" y="17" width="3" height="1" fill="#a8a8a8" shape-rendering="crispEdges"/>
<rect x="919" y="1" width="3" height="1" fill="#a8a8a8" shape-rendering="crispEdges"/>
<rect x="919" y="3" width="3" height="1" fill="#a8a8a8" shape-rendering="crispEdges"/>
<rect x="919" y="5" width="3" height="1" fill="#a8a8a8" shape-rendering="crispEdges"/>
<rect x="919" y="7" width="3" height="1" fill="#a8a8a8" shape-rendering="crispEdges"/>
<rect x="919" y="9" width="3" height="1" fill="#a8a8a8" shape-rendering="crispEdges"/>
<rect x="919" y="11" width="3" height="1" fill="#a8a8a8" shape-rendering="crispEdges"/>
<rect x="919" y="13" width="3" height="1" fill="#a8a8a8" shape-rendering="crispEdges"/>
<rect x="919" y="15" width="3" height="1" fill="#a8a8a8" shape-rendering="crispEdges"/>
<rect x="919" y="17" width="3" height="1" fill="#a8a8a8" shape-rendering="crispEdges"/>
<path d="M15.5,1.5 h8 l3,3 v10 h-11 z" fill="#fff" stroke="#6e6e6e" stroke-width="1"/>
<path d="M23.5,1.5 v3 h3" fill="#fff" stroke="#6e6e6e" stroke-width="1"/>
<rect x="17" y="3" width="3" height="2" fill="#909090" shape-rendering="crispEdges"/>
<rect x="17" y="7" width="6" height="1" fill="#909090" shape-rendering="crispEdges"/>
<rect x="17" y="9" width="5" height="1" fill="#909090" shape-rendering="crispEdges"/>
<path d="M23.5,7.5 h4 v3.5 h3.5 v4 h-3.5 v3.5 h-4 v-3.5 h-3.5 v-4 h3.5 z" fill="url(#gplus)" stroke="#119911" stroke-width="1"/>
<g transform="translate(34,2)" fill="none" stroke="#000" stroke-width="1" stroke-linecap="square" shape-rendering="crispEdges">
<path d="M3.5,0.5 v1"/>
<path d="M0.5,2.5 h6"/>
<path d="M1.5,3.5 l1,1.5"/>
<path d="M5.5,3.5 l-1,1.5"/>
<path d="M0.5,5.5 h6"/>
<path d="M0.5,7.5 h6"/>
<path d="M3.5,5.5 v6"/>
<path d="M3,8.5 l-2.5,2.5"/>
<path d="M4,8.5 l2.5,2"/>
<path d="M11.5,0.5 l-4,1.5"/>
<path d="M7.5,2 v5.5 l-1,3.5"/>
<path d="M8,5.5 h4"/>
<path d="M10.5,5.5 v6"/>
</g>
<g transform="translate(46,2)" fill="none" stroke="#000" stroke-width="1" stroke-linecap="square" shape-rendering="crispEdges">
<path d="M1,0.5 l1,1.5"/>
<path d="M0.5,4.5 h1.5 v5.5 l1.5,-1.5"/>
<path d="M4.5,1.5 h7"/>
<path d="M8.5,1.5 v9.5 h-2"/>
</g>
<g transform="translate(58,2)" fill="none" stroke="#000" stroke-width="1" stroke-linecap="square" shape-rendering="crispEdges">
<path d="M3,0.5 l1,1.5"/>
<path d="M9,0.5 l-1,1.5"/>
<path d="M1.5,2.5 h9 v5 h-9 z"/>
<path d="M1.5,5 h9"/>
<path d="M6,2.5 v9"/>
<path d="M0.5,9.5 h11"/>
</g>
<path d="M82.5,11 L87.5,2.5 L96.5,8.5 L97.5,11.5 L90,16.5 Z" fill="url(#gold)" stroke="#9a6a10" stroke-width="1"/>
<path d="M83.5,11 L90,15 L96,9.5" fill="none" stroke="#f8e8a0" stroke-width="1.2"/>
<path d="M91,14.5 L97,10.5" fill="none" stroke="#e8dca0" stroke-width="1"/>
<path d="M112.5,3.5 l2.5,-2 h8 v10 h-10.5 z" fill="#3aa8f5" stroke="#1a6fc0" stroke-width="1"/>
<path d="M112.5,3.5 h8 l2.5,-2 M120.5,3.5 v8" fill="none" stroke="#1a6fc0" stroke-width="0.8"/>
<rect x="116" y="6" width="5" height="1" fill="#d8f0ff" shape-rendering="crispEdges"/>
<path d="M111.5,16.5 a2.5,2.5 0 0 1 0,-5 a3.5,3.5 0 0 1 6.5,-2 a3,3 0 0 1 5,2 a2.5,2.5 0 0 1 2,5 z" fill="#e8edf3" stroke="#6a7da0" stroke-width="1"/>
<path d="M146,1.5 a7.5,7.5 0 0 0 0,15" fill="none" stroke="#5a8ad8" stroke-width="1.3"/>
<path d="M146,1.5 a7.5,7.5 0 0 1 0,15" fill="none" stroke="#7ab87a" stroke-width="1.3"/>
<path d="M146,4.5 a4.5,4.5 0 0 0 0,9" fill="none" stroke="#5a8ad8" stroke-width="1.2"/>
<path d="M146,4.5 a4.5,4.5 0 0 1 0,9" fill="none" stroke="#8ac08a" stroke-width="1.2"/>
<circle cx="146" cy="9" r="1.6" fill="#1a50c0"/>
<rect x="146" y="9" width="1" height="8" fill="#22aa22" shape-rendering="crispEdges"/>
<path d="M165.5,7.5 L181.5,7.5 L174,17 Z" fill="#f2de5a" stroke="#c9a520" stroke-width="1"/>
<ellipse cx="173" cy="6" rx="8" ry="2.5" fill="#6fb6e6" stroke="#3a88c0" stroke-width="1"/>
<ellipse cx="173" cy="4.5" rx="4" ry="3" fill="#8cc8f0" stroke="#3a88c0" stroke-width="1"/>
<circle cx="177" cy="12.5" r="4.3" fill="#d52a1a" stroke="#a81a10" stroke-width="1"/>
<rect x="175" y="11" width="4" height="3" fill="#fff" shape-rendering="crispEdges"/>
<g transform="translate(187,2)" fill="none" stroke="#000" stroke-width="1" stroke-linecap="square" shape-rendering="crispEdges">
<path d="M4.5,0.5 v1"/>
<path d="M0.5,1.5 h8 v10 h-8 z"/>
<path d="M0.5,4.5 h8"/>
<path d="M0.5,7.5 h8"/>
</g>
<g transform="translate(198,2)" fill="none" stroke="#000" stroke-width="1" stroke-linecap="square" shape-rendering="crispEdges">
<path d="M0.5,1.5 h4.5"/>
<path d="M0.5,4 h5"/>
<path d="M2.5,4 l-2,5 h5"/>
<path d="M4,7 l1.5,2"/>
<path d="M6,3.5 h4.5 v7.5 h-1.5"/>
<path d="M7.5,0.5 v5 l-2,5.5"/>
</g>
<g transform="translate(210,2)" fill="none" stroke="#000" stroke-width="1" stroke-linecap="square" shape-rendering="crispEdges">
<path d="M5.5,0.5 v1"/>
<path d="M0.5,2.5 h10.5"/>
<path d="M3,4 l-2,2.5"/>
<path d="M8,4 l2.5,2.5"/>
<path d="M2.5,5.5 l7.5,5.5"/>
<path d="M8.5,5.5 l-7.5,5.5"/>
</g>
<g transform="translate(222,2)" fill="none" stroke="#000" stroke-width="1" stroke-linecap="square" shape-rendering="crispEdges">
<path d="M2.5,0.5 h7 v5 h-7 z"/>
<path d="M2.5,3 h7"/>
<path d="M1,6.5 h9.5 v4.5 h-1.5"/>
<path d="M3,6.5 l-2.5,4"/>
<path d="M5.5,7.5 l-2.5,3.5"/>
<path d="M8,7.5 l-2.5,3.5"/>
</g>
<g fill="none" stroke="#5a5a5a" stroke-width="1.2"><path d="M259.5,3 v13.5 M257,14.5 h13.5"/></g>
<path d="M257.5,5 l2,-2.5 l2,2.5 z M269,12.5 l2.5,2 l-2.5,2 z" fill="#5a5a5a"/>
<path d="M263,11.5 h2.5 v-7 M265.5,5.5 h2.5" fill="none" stroke="#119911" stroke-width="1.2"/>
<g fill="none" stroke="#5a5a5a" stroke-width="1.2"><path d="M287.5,3 v13.5 M285,14.5 h13.5"/></g>
<path d="M285.5,5 l2,-2.5 l2,2.5 z M297,12.5 l2.5,2 l-2.5,2 z" fill="#5a5a5a"/>
<rect x="293" y="1" width="1" height="12" fill="#119911" shape-rendering="crispEdges"/>
<rect x="291.5" y="3.5" width="4" height="7" fill="#4ee04e" stroke="#119911" stroke-width="1"/>
<g fill="none" stroke="#5a5a5a" stroke-width="1.2"><path d="M315.5,3 v13.5 M313,14.5 h13.5"/></g>
<path d="M313.5,5 l2,-2.5 l2,2.5 z M325,12.5 l2.5,2 l-2.5,2 z" fill="#5a5a5a"/>
<path d="M315,12 q4,-7 7,-6 q2,0.5 3.5,3" fill="none" stroke="#119911" stroke-width="1.2"/>
<path d="M355,11 l5,5" stroke="#c9a520" stroke-width="2.6"/><path d="M355,11 l5,5" stroke="#f2e06a" stroke-width="1.2"/>
<circle cx="351" cy="7" r="5.5" fill="#d8eefa" stroke="#3a80c0" stroke-width="1.2"/>
<rect x="348" y="6" width="7" height="2" fill="#4a88b0" shape-rendering="crispEdges"/>
<rect x="350" y="4" width="2" height="7" fill="#4a88b0" shape-rendering="crispEdges"/>
<path d="M383,11 l5,5" stroke="#c9a520" stroke-width="2.6"/><path d="M383,11 l5,5" stroke="#f2e06a" stroke-width="1.2"/>
<circle cx="379" cy="7" r="5.5" fill="#d8eefa" stroke="#3a80c0" stroke-width="1.2"/>
<rect x="376" y="6" width="7" height="2" fill="#4a88b0" shape-rendering="crispEdges"/>
<rect x="401" y="1" width="8" height="8" fill="#2ea02e" shape-rendering="crispEdges"/>
<rect x="402" y="4" width="6" height="3" fill="#fff" shape-rendering="crispEdges"/>
<rect x="402" y="7" width="1" height="1" fill="#fff" shape-rendering="crispEdges"/>
<rect x="407" y="7" width="1" height="1" fill="#fff" shape-rendering="crispEdges"/>
<rect x="409" y="1" width="8" height="8" fill="#2a5ad8" shape-rendering="crispEdges"/>
<rect x="410" y="4" width="6" height="3" fill="#fff" shape-rendering="crispEdges"/>
<rect x="410" y="7" width="1" height="1" fill="#fff" shape-rendering="crispEdges"/>
<rect x="415" y="7" width="1" height="1" fill="#fff" shape-rendering="crispEdges"/>
<rect x="401" y="9" width="8" height="8" fill="#2a5ad8" shape-rendering="crispEdges"/>
<rect x="402" y="12" width="6" height="3" fill="#fff" shape-rendering="crispEdges"/>
<rect x="402" y="15" width="1" height="1" fill="#fff" shape-rendering="crispEdges"/>
<rect x="407" y="15" width="1" height="1" fill="#fff" shape-rendering="crispEdges"/>
<rect x="409" y="9" width="8" height="8" fill="#2ea02e" shape-rendering="crispEdges"/>
<rect x="410" y="12" width="6" height="3" fill="#fff" shape-rendering="crispEdges"/>
<rect x="410" y="15" width="1" height="1" fill="#fff" shape-rendering="crispEdges"/>
<rect x="415" y="15" width="1" height="1" fill="#fff" shape-rendering="crispEdges"/>
<g fill="none" stroke="#5a5a5a" stroke-width="1.2"><path d="M439.5,3 v13.5 M437,14.5 h13.5"/></g>
<path d="M437.5,5 l2,-2.5 l2,2.5 z M449,12.5 l2.5,2 l-2.5,2 z" fill="#5a5a5a"/>
<path d="M444,5 l4,3.5 l-4,3.5 z" fill="#6fd06f" stroke="#119911" stroke-width="1"/>
<g fill="none" stroke="#5a5a5a" stroke-width="1.2"><path d="M467.5,3 v13.5 M465,14.5 h13.5"/></g>
<path d="M465.5,5 l2,-2.5 l2,2.5 z M477,12.5 l2.5,2 l-2.5,2 z" fill="#5a5a5a"/>
<rect x="473" y="3" width="1" height="10" fill="#1a70b0" shape-rendering="crispEdges"/>
<path d="M474,8.5 l3,-2.5 v1.5 h3 v2 h-3 v1.5 z" fill="#e85a10"/>
<path d="M498.5,1.5 h8 l3,3 v10 h-11 z" fill="#fff" stroke="#6e6e6e" stroke-width="1"/>
<path d="M501.5,4 q-1,0 -1,2 v5" fill="none" stroke="#554" stroke-width="1"/>
<path d="M506.5,7.5 h4 v3.5 h3.5 v4 h-3.5 v3.5 h-4 v-3.5 h-3.5 v-4 h3.5 z" fill="url(#gplus)" stroke="#119911" stroke-width="1"/>
<path d="M520,7.5 h5.5 l-2.75,3 z" fill="#000"/>
<path d="M559,7.5 h5.5 l-2.75,3 z" fill="#000"/>
<path d="M598,7.5 h5.5 l-2.75,3 z" fill="#000"/>
<path d="M904,7.5 h5.5 l-2.75,3 z" fill="#000"/>
<circle cx="544" cy="9" r="7.3" fill="#fff" stroke="#1a78d0" stroke-width="1.8"/>
<path d="M543,4 v5 h3" fill="none" stroke="#222" stroke-width="1.1"/>
<rect x="575.5" y="2.5" width="15" height="13" fill="#fff" stroke="#3a78c8" stroke-width="1"/>
<rect x="576" y="3" width="14" height="2" fill="#5a9ae0" shape-rendering="crispEdges"/>
<rect x="576" y="10" width="14" height="1" fill="#3a78c8" shape-rendering="crispEdges"/>
<path d="M577,8.5 l2,0 l2,-1 l2,0 l2,-1 l2,1 l2,-1" fill="none" stroke="#a02010" stroke-width="1"/>
<path d="M578,13.5 l2,-1 l2,0 l2,-1 l2,1 l1,-1 l1,1" fill="none" stroke="#119911" stroke-width="1"/>
<path d="M627,2 L635,9.5 L632,9.7 L634,14.5 L632,15.5 L630,11 L627,13.5 Z" fill="#4d4d4d"/>
<rect x="652" y="9" width="6" height="1" fill="#5a5a5a" shape-rendering="crispEdges"/>
<rect x="661" y="9" width="6" height="1" fill="#5a5a5a" shape-rendering="crispEdges"/>
<rect x="659" y="2" width="1" height="6" fill="#5a5a5a" shape-rendering="crispEdges"/>
<rect x="659" y="11" width="1" height="6" fill="#5a5a5a" shape-rendering="crispEdges"/>
<rect x="693" y="3" width="1" height="13" fill="#5a5a5a" shape-rendering="crispEdges"/>
<rect x="716" y="9" width="12" height="1" fill="#5a5a5a" shape-rendering="crispEdges"/>
<path d="M743,15 L756,3.5" stroke="#5a5a5a" stroke-width="1.1"/>
<path d="M770,10.5 l8,-7.5 M775,15.5 l9,-8.5 M772,13 l3,-5 M775,12 l3,-5 M778,10 l3,-8.5" stroke="#5a5a5a" stroke-width="1.1" fill="none"/>
<path d="M781,13.5 h3 M781,15.5 h3 M781,17.5 h3 M781.5,13 v5" stroke="#5a5a5a" stroke-width="1" fill="none"/>
<rect x="799" y="2" width="1" height="1" fill="#5a5a5a" shape-rendering="crispEdges"/>
<rect x="801" y="2" width="1" height="1" fill="#5a5a5a" shape-rendering="crispEdges"/>
<rect x="803" y="2" width="1" height="1" fill="#5a5a5a" shape-rendering="crispEdges"/>
<rect x="805" y="2" width="1" height="1" fill="#5a5a5a" shape-rendering="crispEdges"/>
<rect x="807" y="2" width="1" height="1" fill="#5a5a5a" shape-rendering="crispEdges"/>
<rect x="809" y="2" width="1" height="1" fill="#5a5a5a" shape-rendering="crispEdges"/>
<rect x="811" y="2" width="1" height="1" fill="#5a5a5a" shape-rendering="crispEdges"/>
<rect x="799" y="5" width="1" height="1" fill="#5a5a5a" shape-rendering="crispEdges"/>
<rect x="801" y="5" width="1" height="1" fill="#5a5a5a" shape-rendering="crispEdges"/>
<rect x="803" y="5" width="1" height="1" fill="#5a5a5a" shape-rendering="crispEdges"/>
<rect x="805" y="5" width="1" height="1" fill="#5a5a5a" shape-rendering="crispEdges"/>
<rect x="807" y="5" width="1" height="1" fill="#5a5a5a" shape-rendering="crispEdges"/>
<rect x="809" y="5" width="1" height="1" fill="#5a5a5a" shape-rendering="crispEdges"/>
<rect x="811" y="5" width="1" height="1" fill="#5a5a5a" shape-rendering="crispEdges"/>
<rect x="799" y="9" width="1" height="1" fill="#5a5a5a" shape-rendering="crispEdges"/>
<rect x="801" y="9" width="1" height="1" fill="#5a5a5a" shape-rendering="crispEdges"/>
<rect x="803" y="9" width="1" height="1" fill="#5a5a5a" shape-rendering="crispEdges"/>
<rect x="805" y="9" width="1" height="1" fill="#5a5a5a" shape-rendering="crispEdges"/>
<rect x="807" y="9" width="1" height="1" fill="#5a5a5a" shape-rendering="crispEdges"/>
<rect x="809" y="9" width="1" height="1" fill="#5a5a5a" shape-rendering="crispEdges"/>
<rect x="811" y="9" width="1" height="1" fill="#5a5a5a" shape-rendering="crispEdges"/>
<rect x="799" y="13" width="1" height="1" fill="#5a5a5a" shape-rendering="crispEdges"/>
<rect x="801" y="13" width="1" height="1" fill="#5a5a5a" shape-rendering="crispEdges"/>
<rect x="803" y="13" width="1" height="1" fill="#5a5a5a" shape-rendering="crispEdges"/>
<rect x="805" y="13" width="1" height="1" fill="#5a5a5a" shape-rendering="crispEdges"/>
<rect x="807" y="13" width="1" height="1" fill="#5a5a5a" shape-rendering="crispEdges"/>
<path d="M810,13.5 h3 M810,15.5 h2.5 M810.5,13 v5" stroke="#5a5a5a" stroke-width="1" fill="none"/>
<path d="M830.5,14 L834,4.5 L837.5,14 M832,10.5 h4" stroke="#5a5a5a" stroke-width="1.3" fill="none"/>
<rect x="856" y="3" width="1" height="1" fill="#333" shape-rendering="crispEdges"/>
<rect x="856" y="15" width="1" height="1" fill="#333" shape-rendering="crispEdges"/>
<rect x="858" y="3" width="1" height="1" fill="#333" shape-rendering="crispEdges"/>
<rect x="858" y="15" width="1" height="1" fill="#333" shape-rendering="crispEdges"/>
<rect x="860" y="3" width="1" height="1" fill="#333" shape-rendering="crispEdges"/>
<rect x="860" y="15" width="1" height="1" fill="#333" shape-rendering="crispEdges"/>
<rect x="862" y="3" width="1" height="1" fill="#333" shape-rendering="crispEdges"/>
<rect x="862" y="15" width="1" height="1" fill="#333" shape-rendering="crispEdges"/>
<rect x="864" y="3" width="1" height="1" fill="#333" shape-rendering="crispEdges"/>
<rect x="864" y="15" width="1" height="1" fill="#333" shape-rendering="crispEdges"/>
<rect x="866" y="3" width="1" height="1" fill="#333" shape-rendering="crispEdges"/>
<rect x="866" y="15" width="1" height="1" fill="#333" shape-rendering="crispEdges"/>
<rect x="868" y="3" width="1" height="1" fill="#333" shape-rendering="crispEdges"/>
<rect x="868" y="15" width="1" height="1" fill="#333" shape-rendering="crispEdges"/>
<rect x="856" y="3" width="1" height="1" fill="#333" shape-rendering="crispEdges"/>
<rect x="868" y="3" width="1" height="1" fill="#333" shape-rendering="crispEdges"/>
<rect x="856" y="5" width="1" height="1" fill="#333" shape-rendering="crispEdges"/>
<rect x="868" y="5" width="1" height="1" fill="#333" shape-rendering="crispEdges"/>
<rect x="856" y="7" width="1" height="1" fill="#333" shape-rendering="crispEdges"/>
<rect x="868" y="7" width="1" height="1" fill="#333" shape-rendering="crispEdges"/>
<rect x="856" y="9" width="1" height="1" fill="#333" shape-rendering="crispEdges"/>
<rect x="868" y="9" width="1" height="1" fill="#333" shape-rendering="crispEdges"/>
<rect x="856" y="11" width="1" height="1" fill="#333" shape-rendering="crispEdges"/>
<rect x="868" y="11" width="1" height="1" fill="#333" shape-rendering="crispEdges"/>
<rect x="856" y="13" width="1" height="1" fill="#333" shape-rendering="crispEdges"/>
<rect x="868" y="13" width="1" height="1" fill="#333" shape-rendering="crispEdges"/>
<rect x="858" y="6" width="8" height="1" fill="#5a5a5a" shape-rendering="crispEdges"/>
<rect x="861" y="6" width="2" height="8" fill="#5a5a5a" shape-rendering="crispEdges"/>
<path d="M883,7 l3,-4 l3,4 z M890,12 l3.5,4 l3.5,-4 z" fill="#5a5a5a"/><path d="M885,10 l2,2 l4,-5" stroke="#5a5a5a" stroke-width="1.2" fill="none"/>
<g font-family="Liberation Sans, sans-serif" font-size="10" fill="#333">
<text x="930" y="13.5">M1</text>
<text x="958" y="13.5">M5</text>
<text x="984" y="13.5">M15</text>
<text x="1012" y="13.5">M30</text>
<text x="1043" y="13.5">H1</text>
<text x="1071" y="13.5">H4</text>
<text x="1099" y="13.5">D1</text>
<text x="1127" y="13.5">W1</text>
<text x="1153" y="13.5">MN</text>
</g>
<circle cx="1646.5" cy="6.5" r="3.8" fill="#fff" stroke="#2a60d0" stroke-width="1.4"/>
<path d="M1643.5,9.5 l-4,4" stroke="#2a60d0" stroke-width="2"/>
<path d="M1665,16.5 l1,-2.5 a5,3.5 0 1 1 3,1 z" fill="#e6e8ee" stroke="#aaa" stroke-width="1"/>
<circle cx="1677.5" cy="7" r="7.8" fill="#dd3a1e"/>
<text x="1674.5" y="11" font-family="Liberation Sans, sans-serif" font-size="11" font-weight="bold" fill="#fff">1</text>
</svg>
</body></html>
